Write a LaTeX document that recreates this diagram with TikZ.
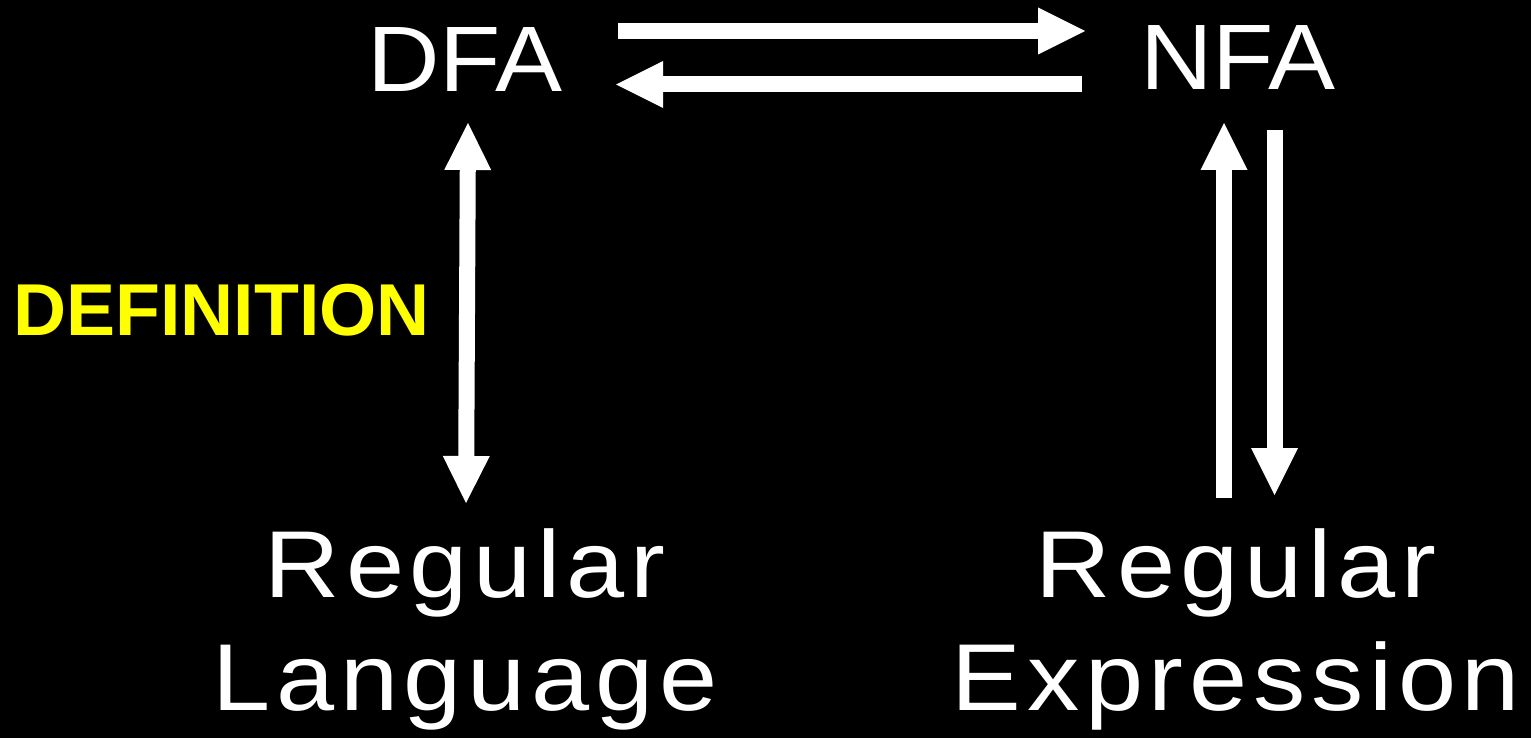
\documentclass[tikz,border=0pt]{standalone}
\usepackage{fontspec}
\setmainfont{Liberation Sans}
\newfontfamily\widefont[FakeStretch=1.1,LetterSpace=6]{Liberation Sans}
\newfontfamily\topfont[FakeStretch=1.08]{Liberation Sans}
\usetikzlibrary{arrows.meta}
\begin{document}
\begin{tikzpicture}[x=1pt,y=-1pt,
  toplbl/.style={inner sep=0pt,text=white,font=\topfont\fontsize{93}{110}\selectfont},
  lbl/.style={inner sep=0pt,text=white,font=\widefont\fontsize{95}{113}\selectfont},
  deflbl/.style={inner sep=0pt,text=defyellow,font=\bfseries\fontsize{73.5}{80}\selectfont},
  bigarrow/.style={draw=white,line width=16pt,
    -{Triangle[width=47pt,length=47pt,line width=0pt]}},
  bigdouble/.style={draw=white,line width=16pt,
    {Triangle[width=47pt,length=47pt,line width=0pt]}-{Triangle[width=47pt,length=47pt,line width=0pt]}}]
\definecolor{defyellow}{RGB}{255,255,0}
\fill[black] (0,0) rectangle (1531,738);
\useasboundingbox (0,0) rectangle (1531,738);
% nodes
\node[toplbl,anchor=base] (dfa) at (465,92) {DFA};
\node[toplbl,anchor=base] (nfa) at (1238,90) {NFA};
\node[lbl,anchor=north,align=center] (rl) at (465,528) {Regular\\Language};
\node[lbl,anchor=north,align=center] (re) at (1236,528) {Regular\\Expression};
\node[deflbl,anchor=base] (def) at (221.5,335) {DEFINITION};
% arrow end points
\coordinate (dfaout) at (618,31);
\coordinate (nfain) at (1085,31);
\coordinate (nfaout) at (1082,84.5);
\coordinate (dfain) at (616,84.5);
\coordinate (dfabot) at (468,123);
\coordinate (rltop) at (466,503);
\coordinate (retopL) at (1224,498);
\coordinate (nfabotL) at (1224,123);
\coordinate (nfabotR) at (1274.5,130);
\coordinate (retopR) at (1274.5,495);
% connectors
\draw[bigarrow] (dfaout) -- (nfain);
\draw[bigarrow] (nfaout) -- (dfain);
\draw[bigdouble] (dfabot) -- (rltop);
\draw[bigarrow] (retopL) -- (nfabotL);
\draw[bigarrow] (nfabotR) -- (retopR);
\end{tikzpicture}
\end{document}
